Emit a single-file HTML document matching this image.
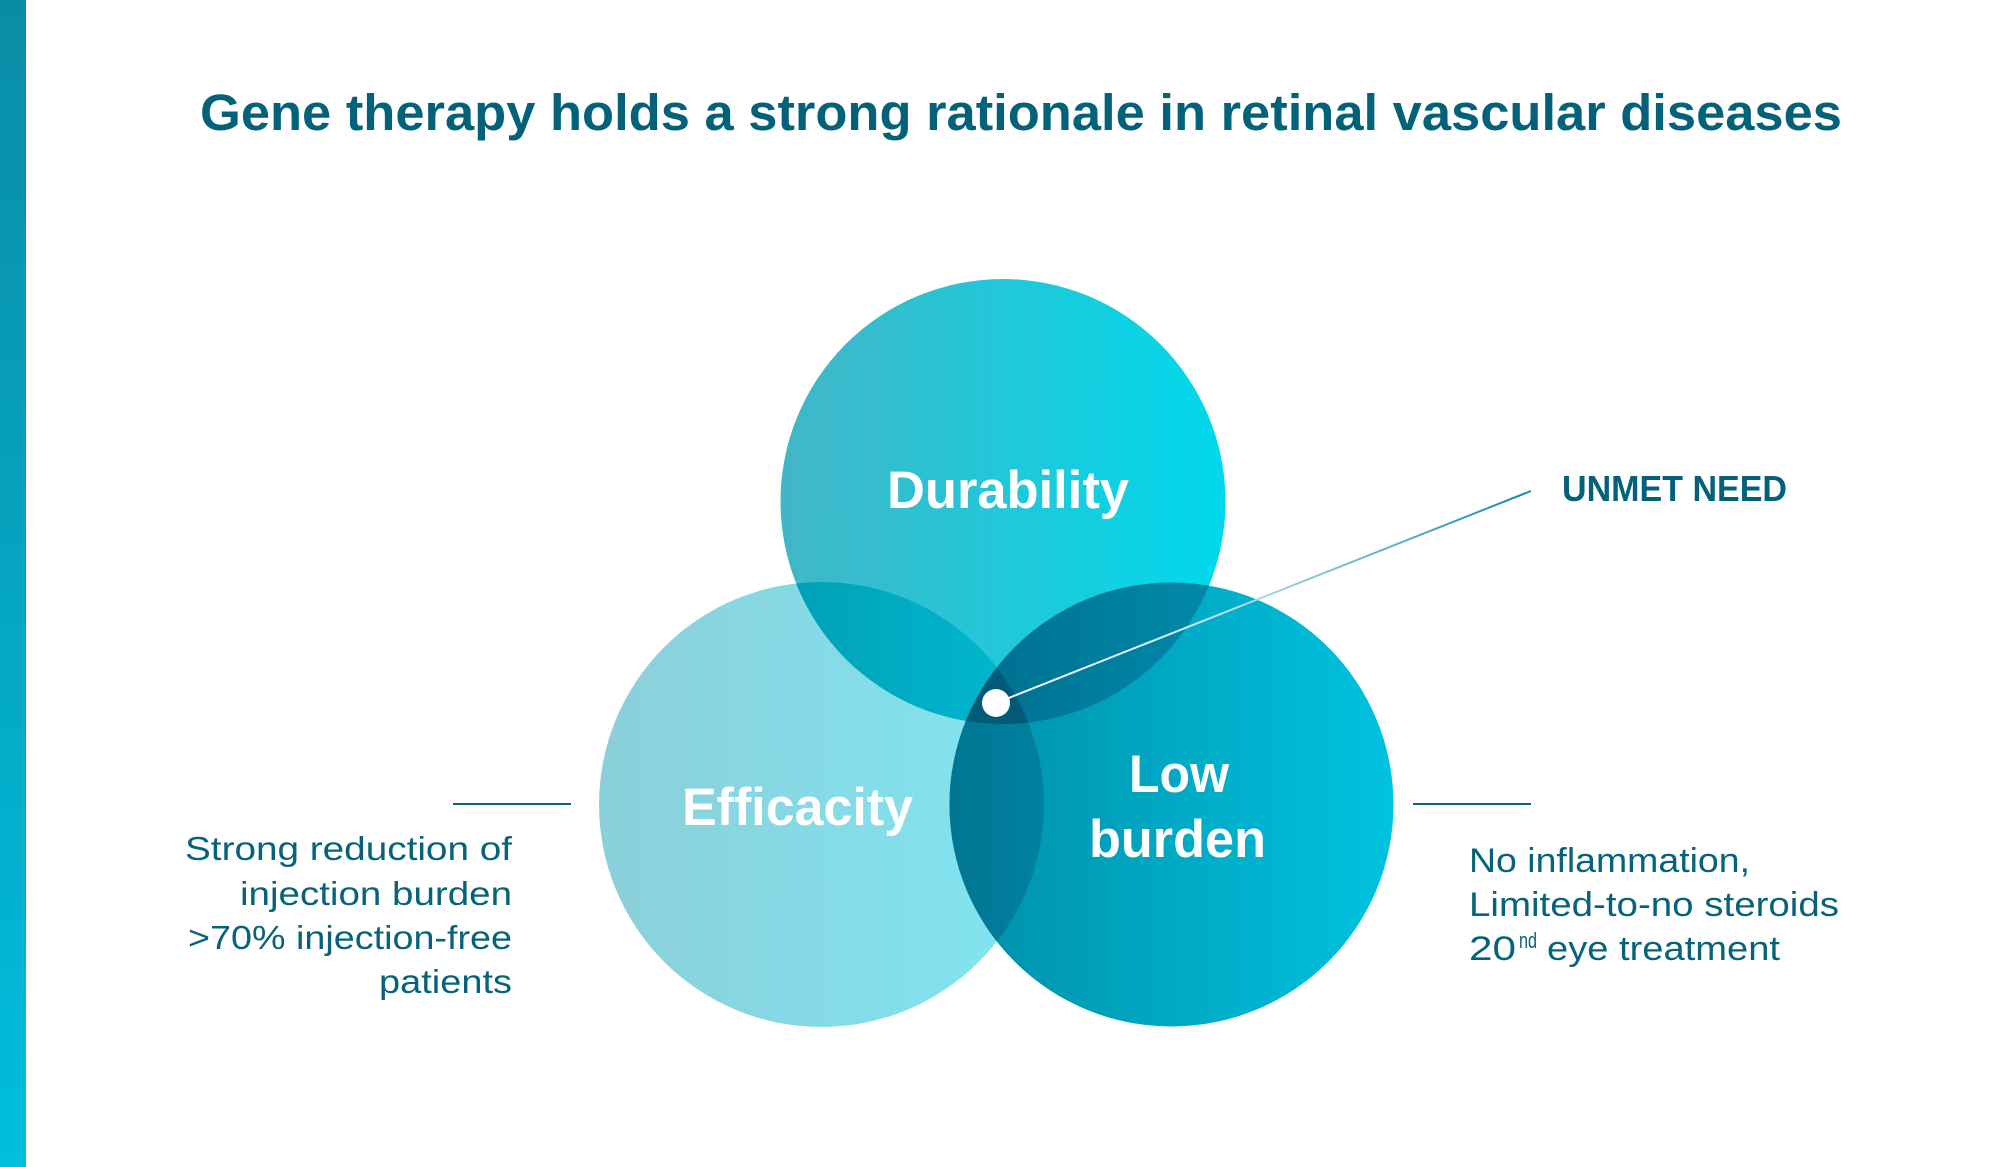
<!DOCTYPE html>
<html>
<head>
<meta charset="utf-8">
<style>
  html, body { margin: 0; padding: 0; background: #ffffff; }
  body { width: 2012px; height: 1167px; overflow: hidden; }
  svg { display: block; }
  text { font-family: "Liberation Sans", Arial, sans-serif; }
</style>
</head>
<body>
<svg width="2012" height="1167" viewBox="0 0 2012 1167" xmlns="http://www.w3.org/2000/svg">
  <defs>
    <linearGradient id="gBar" x1="0" y1="0" x2="0" y2="1">
      <stop offset="0" stop-color="#0a8ca6"/>
      <stop offset="1" stop-color="#00bedd"/>
    </linearGradient>
    <linearGradient id="gE" x1="0" y1="0" x2="1" y2="0">
      <stop offset="0" stop-color="#8bcfda"/>
      <stop offset="1" stop-color="#80e6f2"/>
    </linearGradient>
    <linearGradient id="gD" x1="0" y1="0" x2="1" y2="0">
      <stop offset="0" stop-color="#42b6c6"/>
      <stop offset="1" stop-color="#00d9ec"/>
    </linearGradient>
    <linearGradient id="gL" x1="0" y1="0" x2="1" y2="0">
      <stop offset="0" stop-color="#008ea8"/>
      <stop offset="1" stop-color="#00c3df"/>
    </linearGradient>
    <linearGradient id="gDE" gradientUnits="userSpaceOnUse" x1="780" y1="0" x2="1000" y2="0">
      <stop offset="0" stop-color="#009fb6"/>
      <stop offset="1" stop-color="#00b6ce"/>
    </linearGradient>
    <linearGradient id="gDL" gradientUnits="userSpaceOnUse" x1="950" y1="0" x2="1200" y2="0">
      <stop offset="0" stop-color="#006c8c"/>
      <stop offset="1" stop-color="#0088a8"/>
    </linearGradient>
    <linearGradient id="gEL" gradientUnits="userSpaceOnUse" x1="949" y1="0" x2="1044" y2="0">
      <stop offset="0" stop-color="#007593"/>
      <stop offset="1" stop-color="#00829f"/>
    </linearGradient>
    <linearGradient id="gLine" gradientUnits="userSpaceOnUse" x1="996" y1="703" x2="1531" y2="491">
      <stop offset="0" stop-color="#ffffff"/>
      <stop offset="0.35" stop-color="#d6e8ee"/>
      <stop offset="1" stop-color="#0e8dad"/>
    </linearGradient>
    <clipPath id="cD"><circle cx="1003" cy="501.5" r="222.5"/></clipPath>
    <clipPath id="cE"><circle cx="821.5" cy="804.5" r="222.5"/></clipPath>
  </defs>

  <!-- left accent bar -->
  <rect x="0" y="0" width="26" height="1167" fill="url(#gBar)"/>

  <!-- title -->
  <text x="200" y="130" font-size="51" font-weight="bold" fill="#03627a" textLength="1642" lengthAdjust="spacingAndGlyphs">Gene therapy holds a strong rationale in retinal vascular diseases</text>

  <!-- base circles -->
  <circle cx="821.5" cy="804.5" r="222.5" fill="url(#gE)"/>
  <circle cx="1003" cy="501.5" r="222.5" fill="url(#gD)"/>
  <circle cx="1171.5" cy="804.5" r="222" fill="url(#gL)"/>

  <!-- overlaps -->
  <circle cx="821.5" cy="804.5" r="222.5" fill="url(#gDE)" clip-path="url(#cD)"/>
  <circle cx="1171.5" cy="804.5" r="222" fill="url(#gDL)" clip-path="url(#cD)"/>
  <circle cx="1171.5" cy="804.5" r="222" fill="url(#gEL)" clip-path="url(#cE)"/>
  <g clip-path="url(#cE)">
    <circle cx="1171.5" cy="804.5" r="222" fill="#005a78" clip-path="url(#cD)"/>
  </g>

  <!-- circle labels -->
  <text x="887" y="508" font-size="53" font-weight="bold" fill="#ffffff" textLength="242" lengthAdjust="spacingAndGlyphs">Durability</text>
  <text x="682" y="825" font-size="53" font-weight="bold" fill="#ffffff" textLength="231" lengthAdjust="spacingAndGlyphs">Efficacity</text>
  <text x="1129" y="792" font-size="53" font-weight="bold" fill="#ffffff" textLength="100" lengthAdjust="spacingAndGlyphs">Low</text>
  <text x="1089" y="857" font-size="53" font-weight="bold" fill="#ffffff" textLength="177" lengthAdjust="spacingAndGlyphs">burden</text>

  <!-- unmet need connector -->
  <line x1="996" y1="703" x2="1531" y2="491" stroke="url(#gLine)" stroke-width="2"/>
  <circle cx="996" cy="703" r="14" fill="#ffffff"/>
  <text x="1562" y="501" font-size="36" font-weight="bold" fill="#03627a" textLength="225" lengthAdjust="spacingAndGlyphs">UNMET NEED</text>

  <!-- side rules -->
  <line x1="453" y1="804" x2="571" y2="804" stroke="#05637a" stroke-width="2"/>
  <line x1="1413" y1="804" x2="1531" y2="804" stroke="#05637a" stroke-width="2"/>

  <!-- left text -->
  <g font-size="33" fill="#05637a">
    <text x="185" y="860" textLength="327" lengthAdjust="spacingAndGlyphs">Strong reduction of</text>
    <text x="240" y="905" textLength="272" lengthAdjust="spacingAndGlyphs">injection burden</text>
    <text x="188" y="949" textLength="324" lengthAdjust="spacingAndGlyphs">&gt;70% injection-free</text>
    <text x="379" y="993" textLength="133" lengthAdjust="spacingAndGlyphs">patients</text>
  </g>

  <!-- right text -->
  <g font-size="34" fill="#05637a">
    <text x="1469" y="872" textLength="281" lengthAdjust="spacingAndGlyphs">No inflammation,</text>
    <text x="1469" y="916" textLength="370" lengthAdjust="spacingAndGlyphs">Limited-to-no steroids</text>
    <text x="1469" y="960" textLength="47" lengthAdjust="spacingAndGlyphs">20</text>
    <text x="1519" y="948" font-size="22" textLength="18" lengthAdjust="spacingAndGlyphs">nd</text>
    <text x="1547" y="960" textLength="233" lengthAdjust="spacingAndGlyphs">eye treatment</text>
  </g>
</svg>
</body>
</html>
